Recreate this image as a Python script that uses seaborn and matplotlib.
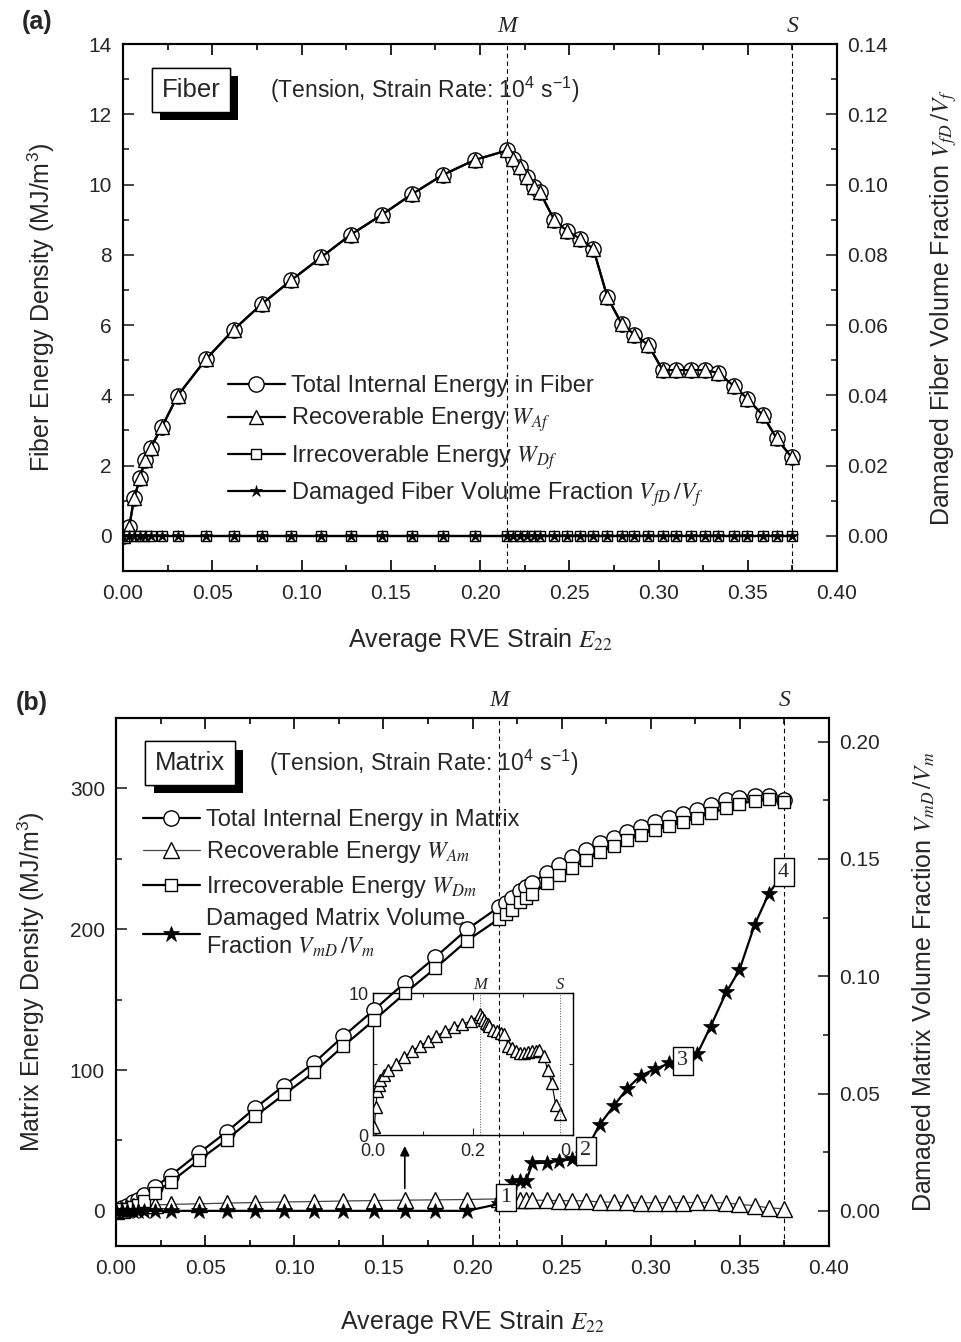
import matplotlib
matplotlib.use('Agg')
import matplotlib.pyplot as plt
import matplotlib.patheffects as pe
from matplotlib.ticker import MultipleLocator
import seaborn as sns

# strain steps (shared by both panels)
strain = [0.0, 0.0035, 0.0062, 0.0095, 0.0123, 0.0155, 0.0218, 0.0306, 0.0465, 0.062,
          0.078, 0.0943, 0.111, 0.1275, 0.145, 0.162, 0.179, 0.197, 0.215, 0.2187,
          0.2224, 0.2265, 0.230, 0.2336, 0.2415, 0.2485, 0.256, 0.2635, 0.2713, 0.2793,
          0.2865, 0.2943, 0.3023, 0.310, 0.318, 0.326, 0.3335, 0.3423, 0.3497, 0.3583,
          0.3661, 0.3745]

# (a) fiber, MJ/m^3
fiber_total = [0, 0.26, 1.07, 1.64, 2.16, 2.51, 3.10, 3.99, 5.03, 5.87,
               6.61, 7.28, 7.93, 8.57, 9.14, 9.73, 10.27, 10.70, 10.97, 10.73,
               10.49, 10.21, 9.92, 9.78, 9.00, 8.69, 8.46, 8.17, 6.80, 6.04,
               5.73, 5.43, 4.72, 4.72, 4.72, 4.72, 4.64, 4.26, 3.91, 3.44,
               2.78, 2.24]
fiber_recov = [0, 0.26, 1.07, 1.64, 2.16, 2.51, 3.10, 3.99, 5.03, 5.87,
               6.61, 7.28, 7.93, 8.57, 9.14, 9.73, 10.27, 10.70, 10.97, 10.73,
               10.49, 10.21, 9.92, 9.78, 9.00, 8.69, 8.46, 8.17, 6.80, 6.04,
               5.73, 5.43, 4.72, 4.72, 4.72, 4.72, 4.64, 4.26, 3.91, 3.44,
               2.78, 2.24]
fiber_irrec = [0.0] * 42
fiber_damaged = [0.0] * 42

# (b) matrix, MJ/m^3
matrix_total = [0, 2, 3.5, 6, 8, 11, 17, 25, 41, 56,
                73, 89, 105, 124, 143, 162, 180, 200, 216, 219,
                222, 227, 230, 233, 240, 246, 251, 256, 261, 265,
                269, 273, 276.5, 279, 282, 285, 288.5, 291.5, 293.6, 295,
                294.4, 292]
matrix_recov = [0, 0.6, 2.0, 3.1, 3.5, 3.9, 4.2, 4.6, 5.0, 5.5,
                5.9, 6.3, 6.6, 7.0, 7.3, 7.6, 7.8, 8.05, 8.5, 8.3,
                8.1, 7.9, 7.8, 7.7, 7.4, 7.3, 7.2, 7.15, 6.3, 6.1,
                5.95, 5.75, 5.8, 5.85, 5.9, 5.95, 6.0, 5.6, 4.6, 3.7,
                2.1, 1.5]
matrix_irrec = [0, 1.4, 1.5, 2.9, 4.5, 7.1, 12.8, 20.4, 36, 50.5,
                67.1, 82.7, 98.4, 117, 135.7, 154.4, 172.2, 192, 207.5, 210.7,
                213.9, 219.1, 222.2, 225.3, 232.6, 238.7, 243.8, 248.9, 254.7, 258.9,
                263.1, 267.3, 270.7, 273.2, 276.1, 279.1, 282.5, 285.9, 289, 291.3,
                292.3, 290.5]
matrix_damaged = [0, 0, 0, 0, 0, 0, 0, 0, 0, 0,
                  0, 0, 0, 0, 0, 0, 0, 0, 0.003, 0.0057,
                  0.0125, 0.0128, 0.0128, 0.0202, 0.0206, 0.0213, 0.022, 0.0256, 0.0367, 0.0448,
                  0.0519, 0.0576, 0.0604, 0.0628, 0.064, 0.0668, 0.0785, 0.0931, 0.1026, 0.122,
                  0.135, 0.1443]

strain_M = 0.215
strain_S = 0.375
box_labels = ['1', '2', '3', '4']
box_index = [19, 27, 34, 41]
arrow_index = 15

sns.set_style('ticks')
plt.rcParams['font.family'] = ['Liberation Sans', 'DejaVu Sans']
plt.rcParams['mathtext.fontset'] = 'stix'
plt.rcParams['axes.linewidth'] = 1.5
plt.rcParams['axes.edgecolor'] = 'k'

TICK = 15
LEG = 17
LAB = 18
serif = ['Liberation Serif', 'DejaVu Serif']

fig = plt.figure(figsize=(9.61, 13.42), dpi=100)
fig.patch.set_facecolor('white')


def style(ax, ax2, ymaj, ymin, y2maj, y2min):
    ax.set_xlim(0, 0.4)
    ax.xaxis.set_major_locator(MultipleLocator(0.05))
    ax.xaxis.set_minor_locator(MultipleLocator(0.025))
    ax.yaxis.set_major_locator(MultipleLocator(ymaj))
    ax.yaxis.set_minor_locator(MultipleLocator(ymin))
    ax2.yaxis.set_major_locator(MultipleLocator(y2maj))
    ax2.yaxis.set_minor_locator(MultipleLocator(y2min))
    ax.xaxis.set_major_formatter(matplotlib.ticker.FormatStrFormatter('%.2f'))
    ax2.yaxis.set_major_formatter(matplotlib.ticker.FormatStrFormatter('%.2f'))
    ax.tick_params(axis='x', which='both', direction='in', top=True, bottom=True,
                   labelsize=TICK, pad=9, color='k', width=1.2)
    ax.tick_params(axis='y', which='both', direction='in', left=True, right=False,
                   labelsize=TICK, pad=8, width=1.2)
    ax2.tick_params(axis='y', which='both', direction='in', right=True, left=False,
                    labelsize=TICK, pad=7, width=1.2)
    for a in (ax, ax2):
        a.tick_params(which='major', length=8)
        a.tick_params(which='minor', length=4)
    ax.patch.set_visible(False)
    for x, name in ((strain_M, 'M'), (strain_S, 'S')):
        ax.axvline(x, color='k', lw=0.8, ls=(0, (4, 3)), zorder=1)
        ax.text(x, 1.034, name, transform=ax.get_xaxis_transform(), ha='center',
                va='center', fontsize=17, style='italic', family=serif)


def title_box(ax, name, x, y):
    t = ax.text(x, y, name, transform=ax.transAxes, fontsize=18.5, ha='center',
                va='center', zorder=10,
                bbox=dict(boxstyle='square,pad=0.38', fc='white', ec='k', lw=1))
    t.get_bbox_patch().set_path_effects([
        pe.withSimplePatchShadow(offset=(6, -6), shadow_rgbFace='k', alpha=1.0),
        pe.Normal()])
    ax.text(x + 0.111, y, r'(Tension, Strain Rate: 10$\mathregular{^4}$ s$\mathregular{^{-1}}$)',
            transform=ax.transAxes, fontsize=16.5, ha='left', va='center')


mk = dict(markerfacecolor='white', markeredgecolor='k', markeredgewidth=1.0)
leg_kw = dict(loc='upper left', frameon=False, fontsize=LEG, handlelength=2.4,
              handletextpad=0.25, borderpad=0, borderaxespad=0)

# ---------------- (a) ----------------
axa = fig.add_axes([0.128, 0.5745, 0.743, 0.3927])
axa2 = axa.twinx()
sns.lineplot(x=strain, y=fiber_total, ax=axa, color='k', lw=1.6, marker='o', markersize=11,
             label='Total Internal Energy in Fiber', legend=False, errorbar=None, sort=False, **mk)
sns.lineplot(x=strain, y=fiber_recov, ax=axa, color='k', lw=1.6, marker='^', markersize=10,
             label=r'Recoverable Energy $W_{Af}$', legend=False, errorbar=None, sort=False, **mk)
sns.lineplot(x=strain, y=fiber_irrec, ax=axa, color='k', lw=1.6, marker='s', markersize=7,
             label=r'Irrecoverable Energy $W_{Df}$', legend=False, errorbar=None, sort=False, **mk)
sns.lineplot(x=strain, y=fiber_damaged, ax=axa2, color='k', lw=1.6, marker='*', markersize=9,
             markerfacecolor='k', markeredgecolor='k', markeredgewidth=0.5,
             label=r'Damaged Fiber Volume Fraction $V_{fD}\,/V_f$', legend=False,
             errorbar=None, sort=False)
axa.set_ylim(-1, 14)
axa2.set_ylim(-0.01, 0.14)
style(axa, axa2, 2, 1, 0.02, 0.01)
axa.set_xlabel(r'Average RVE Strain $E_{22}$', fontsize=LAB)
axa.set_ylabel(r'Fiber Energy Density (MJ/m$\mathregular{^3}$)', fontsize=LAB)
axa2.set_ylabel(r'Damaged Fiber Volume Fraction $V_{fD}\,/V_f$', fontsize=LAB)
axa.xaxis.set_label_coords(0.5, -0.105)
axa.yaxis.set_label_coords(-0.092, 0.5)
axa2.yaxis.set_label_coords(1.127, 0.5)
h1, l1 = axa.get_legend_handles_labels()
h2, l2 = axa2.get_legend_handles_labels()
axa2.legend(h1 + h2, l1 + l2, bbox_to_anchor=(0.147, 0.372), labelspacing=0.36, **leg_kw)
title_box(axa, 'Fiber', 0.095, 0.913)

# ---------------- (b) ----------------
axb = fig.add_axes([0.1207, 0.0715, 0.742, 0.3934])
axb2 = axb.twinx()
sns.lineplot(x=strain, y=matrix_total, ax=axb, color='k', lw=1.6, marker='o', markersize=11,
             label='Total Internal Energy in Matrix', legend=False, errorbar=None, sort=False, **mk)
sns.lineplot(x=strain, y=matrix_recov, ax=axb, color='#444444', lw=0.9, marker='^', markersize=11,
             label=r'Recoverable Energy $W_{Am}$', legend=False, errorbar=None, sort=False, **mk)
sns.lineplot(x=strain, y=matrix_irrec, ax=axb, color='k', lw=1.6, marker='s', markersize=8.5,
             label=r'Irrecoverable Energy $W_{Dm}$', legend=False, errorbar=None, sort=False, **mk)
sns.lineplot(x=strain, y=matrix_damaged, ax=axb2, color='k', lw=1.6, marker='*', markersize=12,
             markerfacecolor='k', markeredgecolor='k', markeredgewidth=0.5,
             label='Damaged Matrix Volume\nFraction $V_{mD}\\,/V_m$', legend=False,
             errorbar=None, sort=False)
axb.set_ylim(-25, 350)
axb2.set_ylim(-0.015, 0.21)
style(axb, axb2, 100, 50, 0.05, 0.025)
axb.set_xlabel(r'Average RVE Strain $E_{22}$', fontsize=LAB)
axb.set_ylabel(r'Matrix Energy Density (MJ/m$\mathregular{^3}$)', fontsize=LAB)
axb2.set_ylabel(r'Damaged Matrix Volume Fraction $V_{mD}\,/V_m$', fontsize=LAB)
axb.xaxis.set_label_coords(0.5, -0.117)
axb.yaxis.set_label_coords(-0.097, 0.5)
axb2.yaxis.set_label_coords(1.114, 0.5)
h1, l1 = axb.get_legend_handles_labels()
h2, l2 = axb2.get_legend_handles_labels()
axb2.legend(h1 + h2, l1 + l2, bbox_to_anchor=(0.038, 0.828), labelspacing=0.36, **leg_kw)
title_box(axb, 'Matrix', 0.104, 0.915)

for lab, i in zip(box_labels, box_index):
    axb2.text(strain[i], matrix_damaged[i], lab, ha='center', va='center', fontsize=16,
              family=serif, zorder=20,
              bbox=dict(boxstyle='square,pad=0.2', fc='white', ec='k', lw=1))

axb.annotate('', xy=(strain[arrow_index], 48), xytext=(strain[arrow_index], 14),
             arrowprops=dict(arrowstyle='-|>', color='k', lw=1.2, mutation_scale=14))

# inset
axi = fig.add_axes([0.3878, 0.1542, 0.2081, 0.1058])
axi.set_zorder(-1)
axi.patch.set_visible(False)
sns.lineplot(x=strain, y=matrix_recov, ax=axi, color='k', lw=0.8, marker='^', markersize=8,
             legend=False, errorbar=None, sort=False, **mk)
axi.set_xlim(0, 0.4)
axi.set_ylim(0, 10)
axi.set_xticks([0.0, 0.2, 0.4])
axi.set_xticklabels(['0.0', '0.2', '0.4'])
axi.set_yticks([0, 10])
axi.xaxis.set_minor_locator(MultipleLocator(0.1))
axi.yaxis.set_minor_locator(MultipleLocator(5))
axi.tick_params(which='both', direction='in', top=True, right=True, labelsize=13, width=0.8)
axi.tick_params(axis='x', pad=6)
axi.tick_params(axis='y', pad=3)
axi.tick_params(which='major', length=5)
axi.tick_params(which='minor', length=3)
for s in axi.spines.values():
    s.set_linewidth(1.0)
for x, name in ((strain_M, 'M'), (strain_S, 'S')):
    axi.axvline(x, color='#555555', lw=0.7, ls=':')
    axi.text(x, 1.06, name, transform=axi.get_xaxis_transform(), ha='center', va='center',
             fontsize=12, style='italic', family=serif)

fig.text(0.0385, 0.9836, '(a)', fontsize=18, fontweight='bold', ha='center', va='center')
fig.text(0.033, 0.476, '(b)', fontsize=18, fontweight='bold', ha='center', va='center')

fig.savefig('out.png', dpi=100)
